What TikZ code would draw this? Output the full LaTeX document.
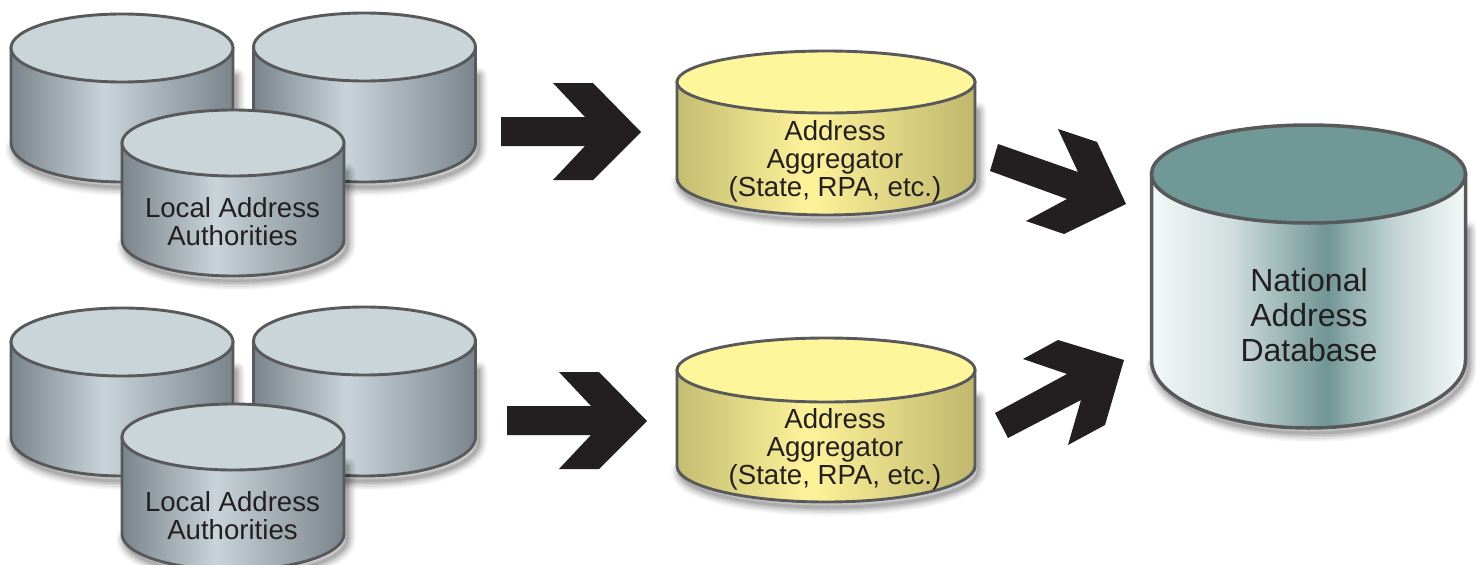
\documentclass[tikz,border=0pt]{standalone}
\usepackage{fontspec}
\setmainfont{Liberation Sans}
\definecolor{edgeC}{HTML}{58595B}
\definecolor{txtC}{HTML}{231F20}
\definecolor{topG}{HTML}{C9D5D9}
\definecolor{topY}{HTML}{FFF59B}
\definecolor{topN}{HTML}{6F9896}
\definecolor{gA}{HTML}{7A848C}
\definecolor{gB}{HTML}{C8D4D9}
\definecolor{yA}{HTML}{C4BC70}
\definecolor{yB}{HTML}{FFF39A}
\definecolor{yC}{HTML}{BFB76C}
\definecolor{nA}{HTML}{F4F8F8}
\definecolor{nB}{HTML}{CFDDDD}
\definecolor{nC}{HTML}{6F9594}
\definecolor{nD}{HTML}{8FAEAD}
\definecolor{nE}{HTML}{C5D5D5}
\pgfdeclarehorizontalshading{grayS}{100bp}{color(0bp)=(gA);color(25bp)=(gA);color(46bp)=(gB);color(75bp)=(gA);color(100bp)=(gA)}
\pgfdeclarehorizontalshading{yelS}{100bp}{color(0bp)=(yA);color(25bp)=(yA);color(47bp)=(yB);color(75bp)=(yC);color(100bp)=(yC)}
\pgfdeclarehorizontalshading{natS}{100bp}{color(0bp)=(nA);color(25bp)=(nA);color(38bp)=(nB);color(53bp)=(nC);color(56.5bp)=(nD);color(64bp)=(nE);color(75bp)=(nA);color(100bp)=(nA)}
\tikzset{
  x=1pt,y=-1pt,
  lbl/.style={font=\fontsize{27.6}{28}\selectfont,text=txtC,align=center,inner sep=0pt},
  natlbl/.style={font=\fontsize{32}{35}\selectfont,text=txtC,align=center,inner sep=0pt},
  bigarrow/.style={fill=txtC,draw=none},
}
% cx cy rx ry h bottomry shading topcolor linewidth
\newcommand\cylShape[9]{%
  \foreach \w/\o in {18/0.03,15/0.04,12/0.05,9/0.06,6/0.08,3/0.1}{%
    \path[draw=black,line width=\w pt,line cap=round,line join=round,draw opacity=\o]
      (#1-#3+3,#2+#5+5) arc[start angle=180,end angle=0,x radius=#3,y radius=#6] -- (#1+#3+3,#2+#5*0.3);
  }%
  \path[shade,shading=#7,draw=edgeC,line width=#9pt]
    (#1-#3,#2) -- (#1-#3,#2+#5)
    arc[start angle=180,end angle=0,x radius=#3,y radius=#6]
    -- (#1+#3,#2) -- cycle;
  \path[fill=#8,draw=edgeC,line width=#9pt] (#1,#2) ellipse[x radius=#3,y radius=#4];
}
\begin{document}
\begin{tikzpicture}
\useasboundingbox (0,0) rectangle (1476,565);
\clip (0,0) rectangle (1476,565);
\fill[white] (0,0) rectangle (1476,565);
% upper group
\cylShape{122}{48}{111}{34}{95}{39}{grayS}{topG}{2.9}
\cylShape{364.5}{47}{111}{34}{96}{39}{grayS}{topG}{2.9}
\cylShape{233}{143}{111}{33}{97}{36}{grayS}{topG}{2.9}
\node[lbl] (localA) at (232.5,222) {Local Address\\Authorities};
% lower group
\cylShape{122}{342}{111}{34}{95}{39}{grayS}{topG}{2.9}
\cylShape{364.5}{341}{111}{34}{96}{39}{grayS}{topG}{2.9}
\cylShape{233}{437}{111}{33}{97}{36}{grayS}{topG}{2.9}
\node[lbl] (localB) at (232.5,516) {Local Address\\Authorities};
% aggregators
\cylShape{826}{82}{149}{31}{96}{37}{yelS}{topY}{2.9}
\node[lbl] (aggA) at (835,161.5) {Address\\Aggregator\\(State, RPA, etc.)};
\cylShape{826}{370}{149}{32}{96}{36}{yelS}{topY}{2.9}
\node[lbl] (aggB) at (835,449) {Address\\Aggregator\\(State, RPA, etc.)};
% national
\cylShape{1308.5}{174}{157}{49}{186}{68}{natS}{topN}{3.5}
\node[natlbl] (nat) at (1309,315.5) {National\\Address\\Database};
% arrows
\fill[bigarrow] (501,117) -- (585,117) -- (553,83) -- (593,83) -- (641,132) -- (593,180) -- (553,180) -- (585,146) -- (501,146) -- cycle;
\fill[bigarrow] (507,406) -- (591,406) -- (559,372) -- (599,372) -- (647,421) -- (599,469) -- (559,469) -- (591,435) -- (507,435) -- cycle;
\fill[bigarrow] (998,144) -- (1078,172) -- (1058,129) -- (1097,142) -- (1126,204) -- (1064,234) -- (1026,221) -- (1067,199) -- (990,171) -- cycle;
\fill[bigarrow] (995,413) -- (1067,374) -- (1023,359) -- (1058,340) -- (1124,360) -- (1105,425) -- (1068,445) -- (1081,400) -- (1008,438) -- cycle;
\end{tikzpicture}
\end{document}
